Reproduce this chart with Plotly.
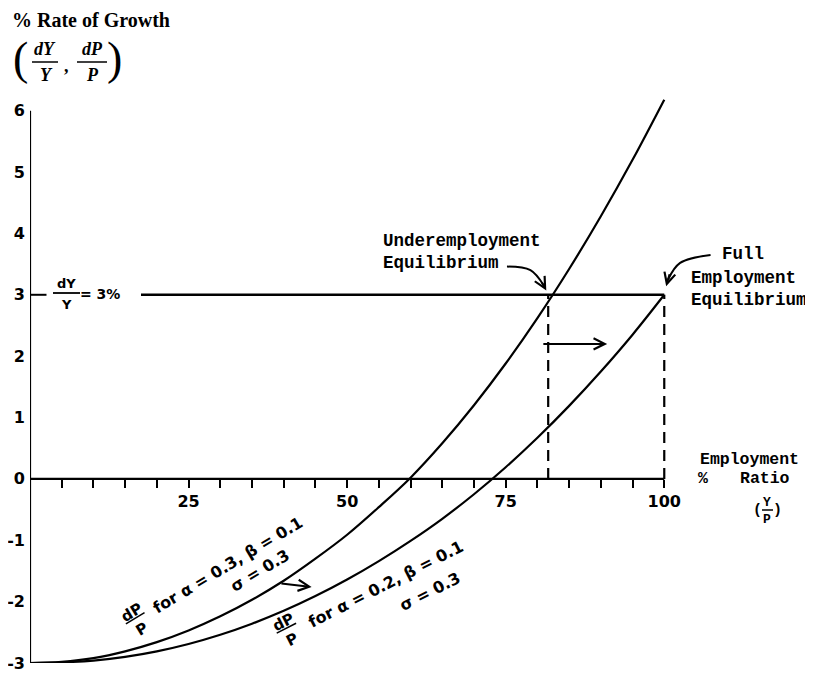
import plotly.graph_objects as go

# ---------------- data ----------------
employment_ratio = [0, 5, 10, 15, 20, 25, 30, 35, 40, 45, 50,
                    55, 60, 65, 70, 75, 80, 85, 90, 95, 100]
dp_alpha_03 = [-3.00, -2.98, -2.92, -2.81, -2.66, -2.47, -2.24, -1.97, -1.66, -1.30, -0.91,
               -0.46, 0.02, 0.58, 1.20, 1.88, 2.62, 3.42, 4.28, 5.20, 6.18]
dp_alpha_02 = [-3.00, -2.99, -2.96, -2.90, -2.81, -2.69, -2.54, -2.36, -2.15, -1.91, -1.64,
               -1.34, -1.01, -0.65, -0.25, 0.19, 0.67, 1.19, 1.75, 2.35, 3.00]

growth_rate = 3                      # dY/Y = 3%
growth_line_x = [17.5, 100]
growth_dash_x = [0, 2.6]
underemployment_x = 81.7
full_employment_x = 100

y_ticks = [-3, -2, -1, 0, 1, 2, 3, 4, 5, 6]
y_tick_labels = ["-3", "-2", "-1", "0", "1", "2", "3", "4", "5", "6"]
x_ticks = [5, 10, 15, 20, 25, 30, 35, 40, 45, 50, 55, 60, 65, 70, 75, 80, 85, 90, 95, 100]
x_tick_labels = [str(v) if v in (25, 50, 75, 100) else "" for v in x_ticks]

# ---------------- layout geometry ----------------
W, H = 813, 676
OFF = 8                      # page body margin of the browser
PL, PT, PW, PH = 30, 80, 685, 583   # plot box in window pixels
ML, MT = PL - OFF, PT - OFF
MR, MB = W - ML - PW, H - MT - PH
XR = [0, 108]
YR = [-3, 6.5]


def pp(px, py):
    """window pixel -> paper coordinates (decorative text placement)"""
    return (px - PL) / PW, (PT + PH - py) / PH


INK = "black"
MONO = "Liberation Mono"
HAND = "DejaVu Sans"
SERIF = "Liberation Serif"

fig = go.Figure()


def line(xs, ys, width=2.2, dash=None, shape="linear"):
    fig.add_trace(go.Scatter(x=xs, y=ys, mode="lines", showlegend=False, hoverinfo="skip",
                             line=dict(color=INK, width=width, dash=dash, shape=shape)))


# axes drawn as lines
line([0, 0], [y_ticks[0], y_ticks[-1]], width=2.2)
line([0, 100], [0, 0], width=2.2)

# curves
line(employment_ratio, dp_alpha_03, width=2.2, shape="spline")
line(employment_ratio, dp_alpha_02, width=2.2, shape="spline")

# growth line dY/Y = 3%
line(growth_line_x, [growth_rate, growth_rate], width=2.6)
line(growth_dash_x, [growth_rate, growth_rate], width=2)

# dashed equilibrium verticals
line([underemployment_x, underemployment_x], [0, growth_rate], width=2.2, dash="11px,7px")
line([full_employment_x, full_employment_x], [0, growth_rate], width=2.2, dash="11px,7px")

annotations = []
shapes = []


def text(s, px, py, size, family, xanchor="center", angle=0):
    x, y = pp(px, py)
    annotations.append(dict(text=s, x=x, y=y, xref="paper", yref="paper", showarrow=False,
                            xanchor=xanchor, yanchor="middle", textangle=angle,
                            font=dict(size=size, family=family, color=INK)))


def bar(px0, px1, py, width=1.5):
    x0, y0 = pp(px0, py)
    x1, _ = pp(px1, py)
    shapes.append(dict(type="line", xref="paper", yref="paper", x0=x0, x1=x1, y0=y0, y1=y0,
                       line=dict(color=INK, width=width)))


# y-axis title
text("<b>% Rate of Growth</b>", 10, 20, 20, SERIF, xanchor="left")
text("(", 20, 59, 46, SERIF)
text("<b><i>dY</i></b>", 45, 49, 18, SERIF)
bar(32, 58, 62)
text("<b><i>Y</i></b>", 46, 75, 18, SERIF)
text("<b>,</b>", 66, 66, 18, SERIF)
text("<b><i>dP</i></b>", 92, 49, 18, SERIF)
bar(77, 107, 62)
text("<b><i>P</i></b>", 92, 75, 18, SERIF)
text(")", 114, 59, 46, SERIF)

# dY/Y = 3% label
text("<b>dY</b>", 66, 283, 13, HAND)
bar(53, 80, 293, 1.8)
text("<b>Y</b>", 66, 304, 13, HAND)
text("<b>= 3%</b>", 100, 294, 14, HAND)

# equilibrium labels
text("<b>Underemployment</b>", 381, 241, 17.5, MONO, xanchor="left")
text("<b>Equilibrium</b>", 381, 263, 17.5, MONO, xanchor="left")
text("<b>Full</b>", 720, 254, 17.5, MONO, xanchor="left")
text("<b>Employment</b>", 689, 278, 17.5, MONO, xanchor="left")
text("<b>Equilibrium</b>", 689, 300, 17.5, MONO, xanchor="left")

# x-axis title
text("<b>Employment</b>", 698, 459, 16.5, MONO, xanchor="left")
text("<b>%</b>", 703, 478, 16.5, MONO)
text("<b>Ratio</b>", 738, 478, 16.5, MONO, xanchor="left")
text("<b>(</b>", 757, 510, 15, MONO)
text("<b>Y</b>", 767, 502, 13, MONO)
bar(762, 773, 510, 1.5)
text("<b>P</b>", 767, 519, 13, MONO)
text("<b>)</b>", 778, 510, 15, MONO)

# curve labels
text("<b><u>dP</u></b><br><b>P</b>", 137, 621, 15, HAND, angle=-31)
text("<b>for α = 0.3, β = 0.1</b>", 227, 565, 16, HAND, angle=-31)
text("<b>σ = 0.3</b>", 260, 570, 16, HAND, angle=-31)

text("<b><u>dP</u></b><br><b>P</b>", 288, 631, 15, HAND, angle=-27)
text("<b>for α = 0.2, β = 0.1</b>", 385, 584, 16, HAND, angle=-27)
text("<b>σ = 0.3</b>", 430, 591, 16, HAND, angle=-27)


# arrows (data coordinates)
def arrow(x, y, ax, ay, head=5):
    annotations.append(dict(x=x, y=y, ax=ax, ay=ay, xref="x", yref="y", axref="x", ayref="y",
                            showarrow=True, arrowhead=head, arrowsize=1.1, arrowwidth=2,
                            arrowcolor=INK, text="", standoff=0))


arrow(91.0, 2.2, 80.7, 2.2)
arrow(44.4, -1.76, 39.4, -1.70)

# curved pointers to the equilibria
line([75.2, 78.9, 81.0], [3.46, 3.40, 3.15], width=2, shape="spline")
arrow(81.4, 3.07, 80.6, 3.22)
line([107.3, 102.5, 100.6], [3.65, 3.52, 3.25], width=2, shape="spline")
arrow(100.3, 3.14, 100.9, 3.36)

fig.update_layout(
    width=W, height=H,
    margin=dict(l=ML, r=MR, t=MT, b=MB, autoexpand=False),
    paper_bgcolor="white", plot_bgcolor="white",
    xaxis=dict(range=XR, anchor="free", position=(0 - YR[0]) / (YR[1] - YR[0]),
               showline=False, showgrid=False, zeroline=False,
               tickmode="array", tickvals=x_ticks, ticktext=x_tick_labels,
               ticks="outside", ticklen=8, tickwidth=2, tickcolor=INK,
               tickfont=dict(family=HAND, size=16, color=INK, weight="bold")),
    yaxis=dict(range=YR, showline=False, showgrid=False, zeroline=False,
               tickmode="array", tickvals=y_ticks, ticktext=y_tick_labels,
               ticks="", ticklabelstandoff=4,
               tickfont=dict(family=HAND, size=16, color=INK, weight="bold")),
    annotations=annotations,
    shapes=shapes,
    showlegend=False,
)

fig.write_html("out.html")
